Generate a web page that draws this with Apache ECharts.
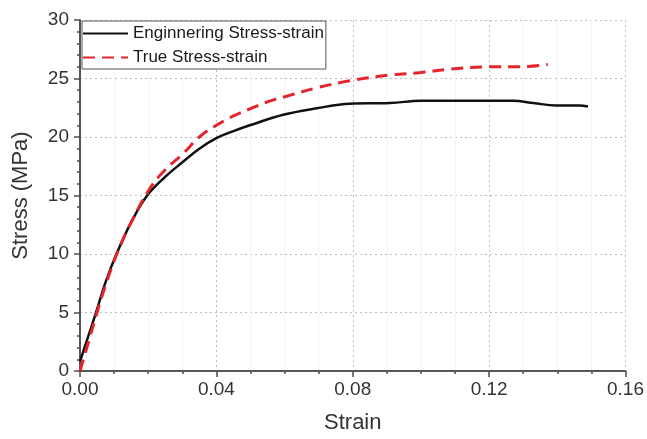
<!DOCTYPE html>
<html>
<head>
<meta charset="utf-8">
<script src="https://cdn.jsdelivr.net/npm/echarts@6/dist/echarts.min.js"></script>
<style>html,body{margin:0;padding:0;background:#fff}#c{width:647px;height:439px}</style>
</head>
<body>
<div id="c"></div>
<script>
var engStrain = [0, 0.002, 0.0047, 0.0075, 0.0107, 0.015, 0.0197, 0.025, 0.0303, 0.035, 0.04, 0.045, 0.0498, 0.0596, 0.0694, 0.0791, 0.0909, 0.100, 0.110, 0.120, 0.127, 0.133, 0.1397, 0.1465, 0.149];
var engStress = [0.8, 2.6, 5, 7.6, 10, 12.7, 15, 16.6, 17.9, 19.0, 19.9, 20.5, 21.0, 21.9, 22.45, 22.85, 22.9, 23.1, 23.1, 23.1, 23.1, 22.9, 22.7, 22.7, 22.6];
var trueStrain = [0, 0.0025, 0.005, 0.0078, 0.0108, 0.015, 0.0205, 0.025, 0.0303, 0.035, 0.04, 0.045, 0.0498, 0.055, 0.0596, 0.0694, 0.0791, 0.0909, 0.0996, 0.1085, 0.12, 0.129, 0.1372];
var trueStress = [0, 2.5, 5, 7.6, 10, 12.7, 15.6, 17.2, 18.6, 20.0, 21.0, 21.8, 22.4, 23.0, 23.4, 24.2, 24.8, 25.3, 25.5, 25.8, 26.0, 26.0, 26.2];
var xTicks = ['0.00', '0.04', '0.08', '0.12', '0.16'];
var seriesNames = ['Enginnering Stress-strain', 'True Stress-strain'];

function pairs(xs, ys) { return xs.map(function (x, i) { return [x, ys[i]]; }); }

var font = 'Liberation Sans, Arial, sans-serif';
var axisColor = '#4d4d4d';
var chart = echarts.init(document.getElementById('c'), null, {renderer: 'canvas'});
chart.setOption({
  animation: false,
  backgroundColor: '#fff',
  grid: {left: 80, right: 19, top: 20, bottom: 62.5, containLabel: false},
  legend: {
    left: 82, top: 21, orient: 'vertical',
    padding: [4, 2, 3, 0],
    itemWidth: 45, itemHeight: 17, itemGap: 7,
    borderColor: '#555', borderWidth: 1, backgroundColor: '#fff',
    itemStyle: {color: 'rgba(0,0,0,0)', borderColor: 'rgba(0,0,0,0)', borderWidth: 0, opacity: 0},
    textStyle: {fontFamily: font, fontSize: 17, color: '#1a1a1a'},
    data: seriesNames
  },
  xAxis: [{
    type: 'value', min: 0, max: 0.16, interval: 0.04, position: 'bottom',
    name: 'Strain', nameLocation: 'middle', nameGap: 41,
    nameTextStyle: {fontFamily: font, fontSize: 22, color: '#333'},
    axisLine: {show: true, lineStyle: {color: axisColor, width: 1.5}},
    axisTick: {show: true, inside: false, length: 6, lineStyle: {color: axisColor, width: 1.5}},
    minorTick: {show: true, splitNumber: 4, length: 3, lineStyle: {color: axisColor, width: 1.5}},
    axisLabel: {margin: 9, fontFamily: font, fontSize: 19, color: '#333',
      formatter: function (v) { return xTicks[Math.round(v / 0.04)]; }},
    splitLine: {show: true, lineStyle: {color: '#bdbdbd', type: [2, 3], width: 1}},
    minorSplitLine: {show: true, lineStyle: {color: '#f3f3f3', width: 1}}
  }, {
    type: 'value', min: 0, max: 0.16, interval: 0.04, position: 'top',
    axisLine: {show: true, lineStyle: {color: axisColor, width: 1.5}},
    axisTick: {show: true, inside: true, length: 5, lineStyle: {color: axisColor, width: 1.5}},
    minorTick: {show: true, splitNumber: 4, length: 3, lineStyle: {color: axisColor, width: 1.5}},
    axisLabel: {show: false}, splitLine: {show: false}
  }],
  yAxis: [{
    type: 'value', min: 0, max: 30, interval: 5, position: 'left',
    name: 'Stress (MPa)', nameLocation: 'middle', nameGap: 48,
    nameTextStyle: {fontFamily: font, fontSize: 22, color: '#333'},
    axisLine: {show: true, lineStyle: {color: axisColor, width: 1.5}},
    axisTick: {show: true, inside: false, length: 6, lineStyle: {color: axisColor, width: 1.5}},
    minorTick: {show: true, splitNumber: 5, length: 3, lineStyle: {color: axisColor, width: 1.5}},
    axisLabel: {margin: 11, fontFamily: font, fontSize: 19, color: '#333'},
    splitLine: {show: true, lineStyle: {color: '#bdbdbd', type: [2, 3], width: 1}}
  }, {
    type: 'value', min: 0, max: 30, interval: 5, position: 'right',
    axisLine: {show: true, lineStyle: {color: axisColor, width: 1.5}},
    axisTick: {show: true, inside: true, length: 5, lineStyle: {color: axisColor, width: 1.5}},
    minorTick: {show: true, splitNumber: 5, length: 3, lineStyle: {color: axisColor, width: 1.5}},
    axisLabel: {show: false}, splitLine: {show: false}
  }],
  series: [{
    name: seriesNames[0], type: 'line', xAxisIndex: 0, yAxisIndex: 0,
    data: pairs(engStrain, engStress), symbol: 'none', smooth: 0.4,
    lineStyle: {color: '#111', width: 2.5}, itemStyle: {color: '#111'}, z: 3
  }, {
    name: seriesNames[1], type: 'line', xAxisIndex: 0, yAxisIndex: 0,
    data: pairs(trueStrain, trueStress), symbol: 'none', smooth: 0.4,
    lineStyle: {color: '#e3242b', width: 3, type: [12, 7]}, itemStyle: {color: '#e3242b'}, z: 4
  }]
});
</script>
</body>
</html>
